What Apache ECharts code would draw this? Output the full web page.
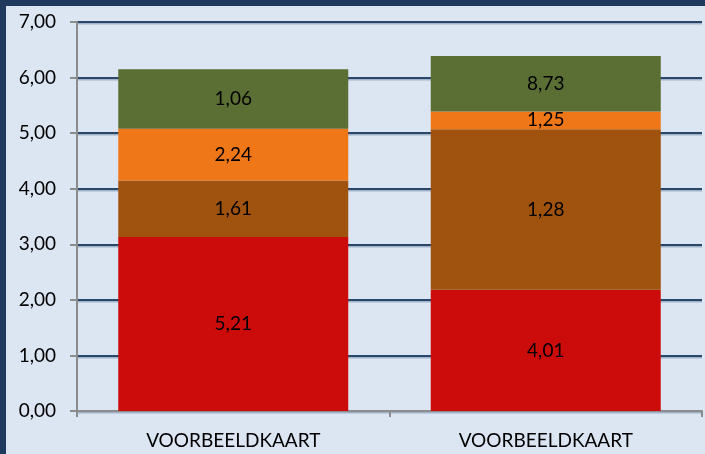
<!DOCTYPE html>
<html>
<head>
<meta charset="utf-8">
<script src="https://cdn.jsdelivr.net/npm/echarts@6/dist/echarts.min.js"></script>
<style>
html,body{margin:0;padding:0;background:#203a5e;}
#c{position:absolute;left:6px;top:6px;width:699px;height:448px;background:#dce6f2;}
</style>
</head>
<body>
<div id="c"></div>
<script>
var categories = ['VOORBEELDKAART', 'VOORBEELDKAART'];
var yTicks = ['0,00','1,00','2,00','3,00','4,00','5,00','6,00','7,00'];
// segment heights (as drawn) and the labels printed on them
var redValues = [3.13, 2.18];
var redLabels = ['5,21', '4,01'];
var brownValues = [1.02, 2.89];
var brownLabels = ['1,61', '1,28'];
var orangeValues = [0.93, 0.32];
var orangeLabels = ['2,24', '1,25'];
var greenValues = [1.07, 1.00];
var greenLabels = ['1,06', '8,73'];

var FONT = 'Lato';
var FS = 19;
function mk(name, vals, labels, color) {
  return {
    name: name, type: 'bar', stack: 's', barWidth: '73.6%',
    data: vals,
    itemStyle: { color: color },
    label: {
      show: true, position: 'inside', color: '#000', fontFamily: FONT, fontSize: FS,
      formatter: function (p) { return labels[p.dataIndex]; }
    }
  };
}
var chart = echarts.init(document.getElementById('c'));
chart.setOption({
  animation: false,
  grid: { left: 71, right: 3, top: 16, bottom: 43 },
  xAxis: {
    type: 'category', data: categories,
    axisLine: { lineStyle: { color: '#8c8c8c', width: 2 } },
    axisTick: { show: true, length: 6, lineStyle: { color: '#8c8c8c', width: 2 } },
    axisLabel: { color: '#000', fontFamily: FONT, fontSize: FS, margin: 20 }
  },
  yAxis: {
    type: 'value', min: 0, max: 7, interval: 1,
    axisLine: { show: true, lineStyle: { color: '#8c8c8c', width: 2 } },
    axisTick: { show: true, length: 7, lineStyle: { color: '#8c8c8c', width: 2 } },
    axisLabel: { color: '#000', fontFamily: FONT, fontSize: FS, margin: 21,
      formatter: function (v) { return yTicks[Math.round(v)]; } },
    splitLine: { show: true, lineStyle: { color: '#2a4669', width: 2, shadowColor: '#9fb2c9', shadowOffsetY: 1.5 } }
  },
  series: [
    mk('a', redValues, redLabels, '#cc0c0a'),
    mk('b', brownValues, brownLabels, '#a0520f'),
    mk('c', orangeValues, orangeLabels, '#ef7717'),
    mk('d', greenValues, greenLabels, '#5b6e33')
  ]
});
</script>
</body>
</html>
